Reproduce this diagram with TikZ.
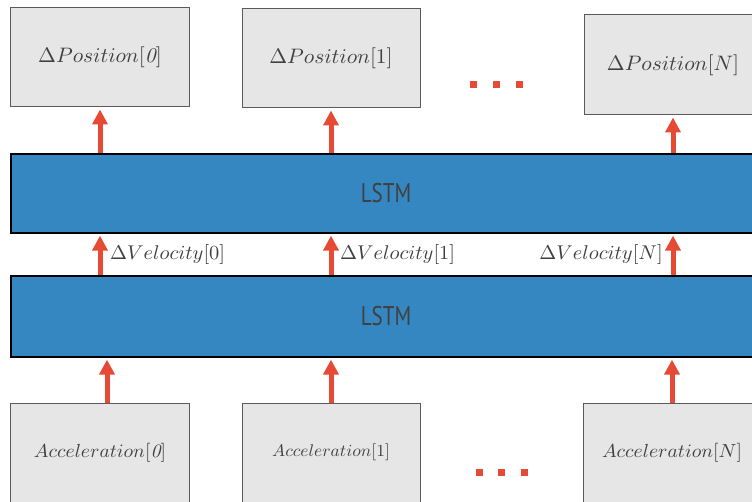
\documentclass[tikz,border=0pt]{standalone}
\usepackage{fontspec}
\usetikzlibrary{arrows.meta}
\newfontfamily\lstmfont{PT Sans}
\definecolor{boxfill}{HTML}{E6E6E6}
\definecolor{boxline}{HTML}{5A5A5A}
\definecolor{lstmblue}{HTML}{3487C0}
\definecolor{flowred}{HTML}{E64A35}
\definecolor{labelgray}{HTML}{404040}
% math label set at 10pt and scaled (horizontal, vertical)
\newcommand{\mlabel}[3]{\scalebox{#1}[#2]{$#3$}}
\tikzset{
  iobox/.style={draw=boxline, fill=boxfill, line width=1bp, minimum width=178bp,
    minimum height=99bp, inner sep=0pt, text=labelgray},
  lstmbar/.style={draw=black, fill=lstmblue, line width=1.2bp, minimum width=750bp,
    inner sep=0pt, text=labelgray,
    font=\lstmfont\fontsize{27bp}{30bp}\selectfont},
  flow/.style={draw=flowred, line width=5bp,
    -{Triangle[width=15bp,length=15bp]}, shorten >=2bp},
  dotmark/.style={fill=flowred, minimum size=7bp, inner sep=0pt},
  vellabel/.style={text=labelgray, inner sep=0pt},
}
\begin{document}
\begin{tikzpicture}[x=1bp,y=-1bp]
  \clip (0,0) rectangle (752,502);
  \fill[white] (0,0) rectangle (752,502);

  % output boxes
  \node[iobox, minimum height=99bp] (pos0) at (100,57.5) {\mlabel{2.15}{2.1}{\Delta Position[\mathit{0}]}};
  \node[iobox, minimum height=99bp] (pos1) at (331,58.5) {\mlabel{2.15}{2.1}{\Delta Position[1]}};
  \node[iobox, minimum height=100bp] (posN) at (673,65) {\mlabel{2.15}{2.1}{\Delta Position[N]}};

  % the two LSTM layers
  \node[lstmbar, minimum height=79bp] (lstmtop) at (386,193.5) {\scalebox{0.78}[1]{LSTM}};
  \node[lstmbar, minimum height=81bp] (lstmbot) at (386,316.5) {\scalebox{0.78}[1]{LSTM}};

  % input boxes
  \node[iobox] (acc0) at (100,452.5) {\mlabel{1.97}{1.9}{Acceleration[\mathit{0}]}};
  \node[iobox] (acc1) at (331,452.5) {\mlabel{1.76}{1.7}{Acceleration[1]}};
  \node[iobox] (accN) at (672,452.5) {\mlabel{1.97}{1.9}{Acceleration[N]}};

  % ellipsis marks
  \node[dotmark] (dt1) at (473,85) {};
  \node[dotmark] (dt2) at (496,85) {};
  \node[dotmark] (dt3) at (519,85) {};
  \node[dotmark] (db1) at (479,472) {};
  \node[dotmark] (db2) at (501,472) {};
  \node[dotmark] (db3) at (524,472) {};

  % top layer -> outputs
  \draw[flow] (lstmtop.north -| pos0) -- (pos0.south);
  \draw[flow] (lstmtop.north -| pos1) -- (pos1.south);
  \draw[flow] (lstmtop.north -| posN) -- (posN.south);

  % bottom layer -> top layer
  \draw[flow] (lstmbot.north -| pos0) -- (lstmtop.south -| pos0);
  \draw[flow] (lstmbot.north -| pos1) -- (lstmtop.south -| pos1);
  \draw[flow] (lstmbot.north -| posN) -- (lstmtop.south -| posN);

  % inputs -> bottom layer
  \coordinate (in0) at ([xshift=7bp]acc0.north);
  \draw[flow] (in0) -- (lstmbot.south -| in0);
  \draw[flow] (acc1.north) -- (lstmbot.south -| acc1);
  \draw[flow] (accN.north) -- (lstmbot.south -| accN);

  % velocity labels
  \node[vellabel, anchor=west] (v0) at (110,255) {\mlabel{2.05}{2.0}{\Delta Velocity[0]}};
  \node[vellabel, anchor=west] (v1) at (340,255) {\mlabel{2.05}{2.0}{\Delta Velocity[1]}};
  \node[vellabel, anchor=east] (vN) at (663,255) {\mlabel{2.05}{2.0}{\Delta Velocity[N]}};
\end{tikzpicture}
\end{document}
